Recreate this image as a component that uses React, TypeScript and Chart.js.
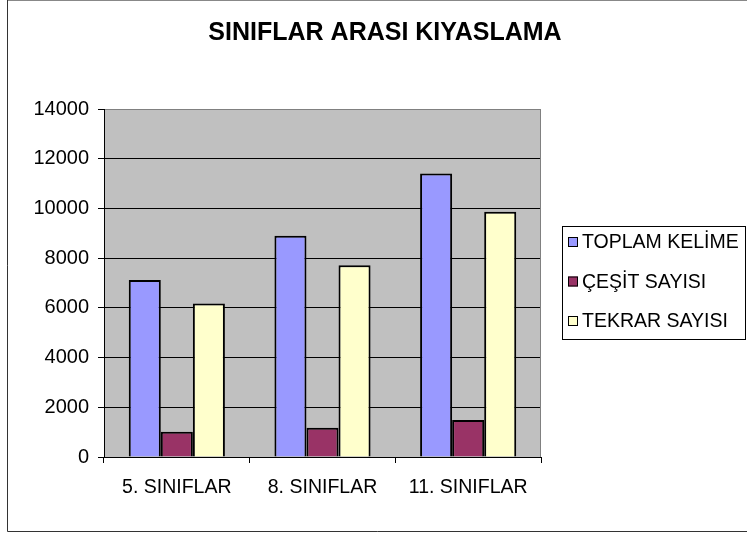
import React, { useEffect, useRef } from "react";
import { Chart, registerables } from "chart.js";

Chart.register(...registerables);

const categories = ["5. SINIFLAR", "8. SINIFLAR", "11. SINIFLAR"];
const toplamKelime = [7120, 8900, 11410];
const cesitSayisi = [1020, 1180, 1490];
const tekrarSayisi = [6180, 7710, 9870];
const seriesLabels = ["TOPLAM KELİME", "ÇEŞİT SAYISI", "TEKRAR SAYISI"];
const seriesColors = ["#9999FF", "#993366", "#FFFFCC"];
const titleText = "SINIFLAR ARASI KIYASLAMA";

const FONT = "'Liberation Sans', Arial, sans-serif";

const framePlugin = {
  id: "framePlugin",
  beforeDraw(chart: any) {
    const { ctx, chartArea, width, height } = chart;
    ctx.save();
    ctx.fillStyle = "#FFFFFF";
    ctx.fillRect(0, 0, width, height);
    ctx.fillStyle = "#C0C0C0";
    ctx.fillRect(chartArea.left, chartArea.top, chartArea.right - chartArea.left, chartArea.bottom - chartArea.top);
    ctx.restore();
  },
  afterDraw(chart: any) {
    const { ctx, chartArea } = chart;
    ctx.save();
    // plot area right border
    ctx.strokeStyle = "#808080";
    ctx.lineWidth = 1;
    ctx.beginPath();
    ctx.moveTo(Math.round(chartArea.right) - 0.5, chartArea.top);
    ctx.lineTo(Math.round(chartArea.right) - 0.5, chartArea.bottom);
    ctx.stroke();
    // outer frame
    ctx.strokeStyle = "#888888";
    ctx.beginPath();
    ctx.moveTo(7, 0.5);
    ctx.lineTo(747, 0.5);
    ctx.stroke();
    ctx.strokeStyle = "#333333";
    ctx.beginPath();
    ctx.moveTo(7.5, 0);
    ctx.lineTo(7.5, 531.5);
    ctx.lineTo(747, 531.5);
    ctx.stroke();
    // legend
    const lx = 562, ly = 226, lw = 183, lh = 113;
    ctx.strokeStyle = "#000000";
    ctx.strokeRect(lx + 0.5, ly + 0.5, lw, lh);
    const centers = [242, 281.5, 321];
    ctx.font = `19.5px ${FONT}`;
    ctx.textBaseline = "middle";
    ctx.textAlign = "left";
    chart.data.datasets.forEach((ds: any, i: number) => {
      const cy = centers[i];
      ctx.fillStyle = ds.backgroundColor;
      ctx.fillRect(568, cy - 5, 10, 10);
      ctx.strokeStyle = "#000000";
      ctx.lineWidth = 1;
      ctx.strokeRect(568.5, cy - 4.5, 9, 9);
      ctx.fillStyle = "#000000";
      ctx.fillText(ds.label, 582, cy + 1);
    });
    ctx.restore();
  },
};

export default function App() {
  const ref = useRef<HTMLCanvasElement>(null);
  useEffect(() => {
    document.body.style.margin = "0";
    const canvas = ref.current!;
    const datasets = [toplamKelime, cesitSayisi, tekrarSayisi].map((data, i) => ({
      label: seriesLabels[i],
      data,
      backgroundColor: seriesColors[i],
      borderColor: "#000000",
      borderWidth: 2,
      categoryPercentage: 0.66,
      barPercentage: 1,
      yAxisID: "y",
    }));
    const chart = new Chart(canvas, {
      type: "bar",
      data: { labels: categories, datasets },
      plugins: [framePlugin],
      options: {
        animation: false,
        responsive: false,
        devicePixelRatio: 1,
        layout: { padding: { left: 23, right: 0, top: 0, bottom: 0 } },
        plugins: {
          legend: { display: false },
          tooltip: { enabled: false },
          title: {
            display: true,
            text: titleText,
            color: "#000000",
            font: { family: FONT, size: 25, weight: "bold", lineHeight: 1.2 },
            padding: { top: 18, bottom: 61 },
          },
        },
        scales: {
          x: {
            grid: {
              display: true,
              drawOnChartArea: false,
              drawTicks: true,
              tickLength: 6,
              color: "#000000",
              offset: true,
            },
            border: { display: true, color: "#000000", width: 1 },
            ticks: { color: "#000000", font: { family: FONT, size: 19.5 }, padding: 13 },
            afterFit: (s: any) => {
              s.height = 76;
            },
          },
          y: {
            min: 0,
            max: 14000,
            ticks: {
              stepSize: 2000,
              color: "#000000",
              font: { family: FONT, size: 20 },
              padding: 9,
              callback: (v: any) => String(v),
            },
            grid: {
              color: (c: any) => (c.tick && c.tick.value === 14000 ? "#808080" : "#000000"),
              tickColor: "#000000",
              tickLength: 6,
              lineWidth: 1,
            },
            border: { display: true, color: "#000000", width: 1 },
            afterFit: (s: any) => {
              s.width = 81;
            },
          },
          y2: {
            position: "right",
            display: true,
            grid: { display: false },
            border: { display: false },
            ticks: { display: false },
            afterFit: (s: any) => {
              s.width = 206;
            },
          },
        },
      },
    } as any);
    return () => chart.destroy();
  }, []);
  return <canvas ref={ref} width={747} height={533} style={{ display: "block", width: 747, height: 533 }} />;
}
